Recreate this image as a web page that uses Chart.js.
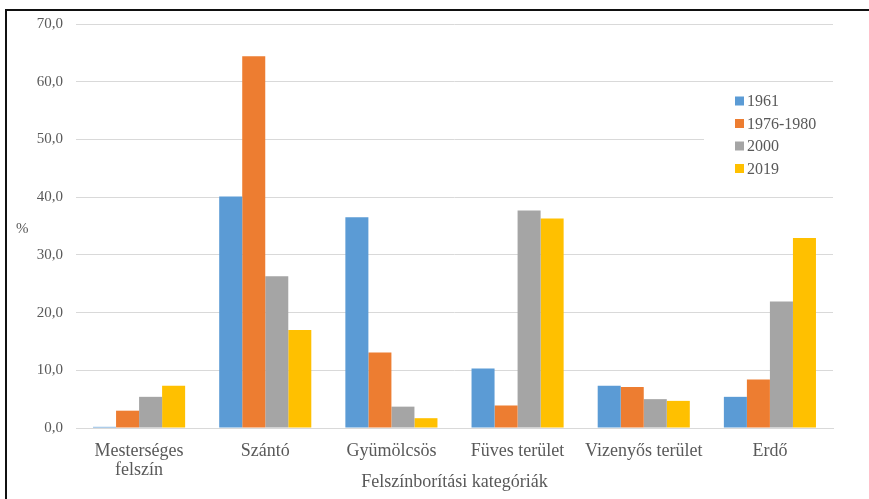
<!DOCTYPE html>
<html lang="hu">
  <head>
    <meta charset="utf-8" />
    <title>Felszínborítási kategóriák</title>
    <style>
      * {
        margin: 0;
        padding: 0;
      }
      body {
        background: white;
      }
      .chartBox {
        width: 869px;
        height: 499px;
      }
    </style>
  </head>
  <body>
    <div class="chartBox">
      <canvas id="myChart"></canvas>
    </div>

    <script src="https://cdn.jsdelivr.net/npm/chart.js@4.4.0/dist/chart.umd.min.js"></script>

    <script>
      const categories = [
        ["Mesterséges", "felszín"],
        "Szántó",
        "Gyümölcsös",
        "Füves terület",
        "Vizenyős terület",
        "Erdő",
      ];
      const seriesNames = ["1961", "1976-1980", "2000", "2019"];
      const values1961 = [0.2, 40.1, 36.5, 10.3, 7.3, 5.4];
      const values1976 = [3.0, 64.4, 13.1, 3.9, 7.1, 8.4];
      const values2000 = [5.4, 26.3, 3.7, 37.7, 5.0, 21.9];
      const values2019 = [7.3, 17.0, 1.7, 36.3, 4.7, 32.9];
      const colors = ["#5B9BD5", "#ED7D31", "#A5A5A5", "#FFC000"];

      const serif = "'Liberation Serif', 'Times New Roman', serif";
      const tickFont = { family: serif, size: 15 };
      const catFont = { family: serif, size: 18, lineHeight: 1.1 };
      const legendSize = 16;
      const textColor = "#595959";

      const seriesValues = [values1961, values1976, values2000, values2019];
      const data = {
        labels: categories,
        datasets: seriesNames.map((name, i) => ({
          label: name,
          data: seriesValues[i],
          backgroundColor: colors[i],
          borderWidth: 0,
          barPercentage: 1,
          categoryPercentage: 0.73,
        })),
      };

      // legend box drawn inside the plot, over the gridlines
      const innerLegend = {
        id: "innerLegend",
        afterDatasetsDraw(chart) {
          const { ctx } = chart;
          ctx.save();
          ctx.fillStyle = "white";
          ctx.fillRect(704, 88, 131, 94);
          ctx.font = `${legendSize}px ${serif}`;
          ctx.textBaseline = "middle";
          chart.data.datasets.forEach((ds, i) => {
            const y = 101 + i * 22.5;
            ctx.fillStyle = ds.backgroundColor;
            ctx.fillRect(735, y - 4.5, 9, 9);
            ctx.fillStyle = textColor;
            ctx.fillText(ds.label, 747, y + 1);
          });
          ctx.restore();
        },
      };

      const frameAndUnit = {
        id: "frameAndUnit",
        afterDraw(chart) {
          const { ctx } = chart;
          ctx.save();
          ctx.strokeStyle = "#111";
          ctx.lineWidth = 2;
          ctx.strokeRect(6, 10, 900, 600);
          ctx.fillStyle = textColor;
          ctx.font = `15px ${serif}`;
          ctx.textBaseline = "middle";
          ctx.fillText("%", 16, 229);
          ctx.restore();
        },
      };

      const config = {
        type: "bar",
        data: data,
        options: {
          responsive: true,
          maintainAspectRatio: false,
          animation: false,
          layout: {
            padding: { top: 24, right: 36, left: 0, bottom: 0 },
          },
          scales: {
            x: {
              grid: { display: false },
              border: { color: "#d9d9d9" },
              ticks: {
                color: textColor,
                font: catFont,
                padding: 5,
                maxRotation: 0,
                autoSkip: false,
              },
              title: {
                display: true,
                text: "Felszínborítási kategóriák",
                color: textColor,
                font: { family: serif, size: 18 },
                padding: { top: 0, bottom: 6 },
              },
              afterFit(scale) {
                scale.height = 71;
              },
            },
            y: {
              min: 0,
              max: 70,
              grid: { color: "#d9d9d9", drawTicks: false },
              border: { display: false },
              ticks: {
                stepSize: 10,
                color: textColor,
                font: tickFont,
                padding: 13,
                callback: (v) => v.toFixed(1).replace(".", ","),
              },
              afterFit(scale) {
                scale.width = 76;
              },
            },
          },
          plugins: {
            legend: { display: false },
            tooltip: { enabled: false },
          },
        },
        plugins: [innerLegend, frameAndUnit],
      };

      const myChart = new Chart(document.getElementById("myChart"), config);
    </script>
  </body>
</html>
